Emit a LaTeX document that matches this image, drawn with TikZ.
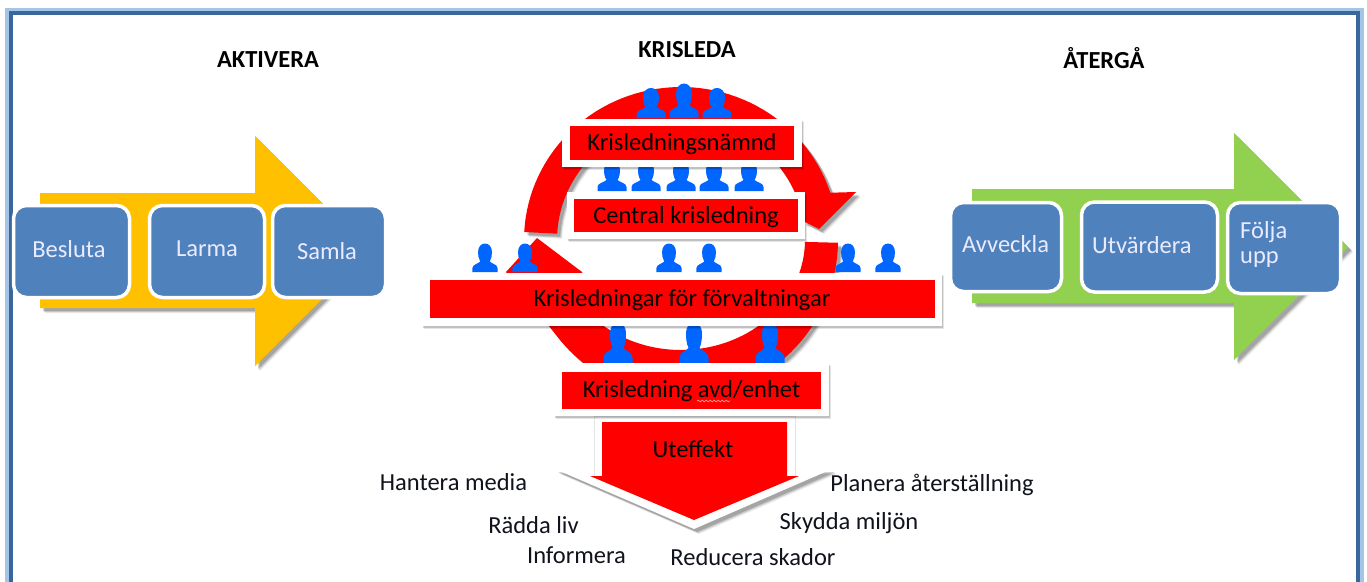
\documentclass[tikz,border=0pt]{standalone}
\usepackage{fontspec}
\setmainfont{Carlito}
\usetikzlibrary{shadows,decorations.pathmorphing}
\definecolor{boxblue}{HTML}{4F81BD}
\definecolor{framedark}{HTML}{3A679B}
\definecolor{framelight}{HTML}{A5C5E8}
\definecolor{amber}{HTML}{FFC000}
\definecolor{leaf}{HTML}{92D050}
\definecolor{ppl}{HTML}{0066FF}
\definecolor{ink}{HTML}{10131C}
\tikzset{
  softsh/.style={
    copy shadow={shadow xshift=5pt,shadow yshift=-5pt,opacity=.08,fill=black,draw=none},
    copy shadow={shadow xshift=4pt,shadow yshift=-4pt,opacity=.14,fill=black,draw=none},
    copy shadow={shadow xshift=3pt,shadow yshift=-3pt,opacity=.18,fill=black,draw=none}},
  softbox/.style={
    copy shadow={shadow xshift=2pt,shadow yshift=-2.5pt,opacity=.10,fill=black,draw=none},
    copy shadow={shadow xshift=1pt,shadow yshift=-1.5pt,opacity=.16,fill=black,draw=none}},
  title/.style={font=\bfseries\fontsize{24.5}{28}\selectfont,text=black,inner sep=0pt},
  label/.style={font=\fontsize{24.5}{28}\selectfont,text=ink,inner sep=0pt},
  boxlabel/.style={font=\fontsize{24.5}{28}\selectfont,text=white!92!blue,inner sep=0pt},
  whitebox/.style={fill=white,draw=none,inner sep=0pt,softbox},
  redbox/.style={fill=red,draw=none,inner sep=0pt,font=\fontsize{24.5}{28}\selectfont,text=black,text height=20pt,text depth=5pt},
  bluebox/.style={fill=boxblue,draw=white,line width=3.5pt,rounded corners=13pt,inner sep=0pt},
  person/.pic={\fill[ppl] (-14.5,0) -- (-14.5,-4) .. controls (-14.5,-8) and (-8,-8.5) .. (-5.5,-11)
     .. controls (-7.5,-14) and (-8,-18) .. (-8,-21) .. controls (-8,-27) and (-4,-30) .. (0,-30)
     .. controls (4,-30) and (8,-27) .. (8,-21) .. controls (8,-18) and (7.5,-14) .. (5.5,-11)
     .. controls (8,-8.5) and (14.5,-8) .. (14.5,-4) -- (14.5,0) -- cycle;}
}
\begin{document}
\begin{tikzpicture}[x=1pt,y=-1pt]
\useasboundingbox (0,0) rectangle (1367,581);
\fill[white] (0,0) rectangle (1367,581);
% frame
\draw[framelight,line width=7pt] (8,610) -- (8,11.5) -- (1360.5,11.5) -- (1360.5,610);
\draw[framedark,line width=4.5pt] (11,610) -- (11,13) -- (1358,13) -- (1358,610);
% titles
\node[title] (tA) at (268,60) {AKTIVERA};
\node[title] (tK) at (687,50) {KRISLEDA};
\node[title] (tR) at (1104,58) {ÅTERGÅ};
% left arrow
\path[fill=amber,softsh] (40,193) -- (255,193) -- (255,136) -- (370,251) -- (255,366) -- (255,308) -- (40,308) -- cycle;
\node[bluebox,minimum width=116pt,minimum height=92pt] (besluta) at (71.5,251.5) {};
\node[boxlabel] (besluta-t) at (69,249) {Besluta};
\node[bluebox,minimum width=115pt,minimum height=92pt] (larma) at (207,251.5) {};
\node[boxlabel] (larma-t) at (207,249) {Larma};
\node[bluebox,minimum width=113pt,minimum height=92pt] (samla) at (329,251.5) {};
\node[boxlabel] (samla-t) at (327,251) {Samla};
% right arrow
\path[fill=leaf,softsh] (972,189) -- (1234,189) -- (1234,133) -- (1348,247) -- (1234,360) -- (1234,303) -- (972,303) -- cycle;
\node[bluebox,minimum width=111pt,minimum height=89pt] (avv) at (1006,247) {};
\node[boxlabel,anchor=west] (avv-t) at (962,244) {Avveckla};
\node[bluebox,minimum width=136pt,minimum height=90pt] (utv) at (1149.5,247) {};
\node[boxlabel,anchor=west] (utv-t) at (1092,245) {Utvärdera};
\node[bluebox,minimum width=113pt,minimum height=91pt] (folj) at (1284,248) {};
\node[boxlabel,anchor=west] (folj-t) at (1240,232) {Följa};
\node[boxlabel,anchor=west] (upp-t) at (1240,260) {upp};
% ring, top arc with head
\path[fill=red,softsh]
  plot[domain=177:18,samples=60] ({681+157*cos(\x)},{240-153*sin(\x)})
  -- (856,192) -- (819,229) -- (805,222)
  -- plot[domain=8:177,samples=60] ({681+124*cos(\x)},{240-120*sin(\x)}) -- cycle;
% ring, bottom arc with head
\path[fill=red,softsh]
  plot[domain=-1:-140,samples=60] ({681+157*cos(\x)},{240-157*sin(\x)})
  -- (506,272) -- (537,238) -- (582,272) -- (592,300)
  -- plot[domain=-140:-1,samples=60] ({681+124*cos(\x)},{240-110*sin(\x)}) -- cycle;
% people
\foreach \x/\y/\s in {651/118/1,717/118/1,684/118/1.15}
  \pic[yscale=\s] at (\x,\y) {person};
\foreach \x in {612,646,681,714,749}
  \pic at (\x,191) {person};
\foreach \x in {485,525,669,709,848,888}
  \pic[xscale=.87,yscale=.95] at (\x,272) {person};
\foreach \x in {618,694,770}
  \pic[yscale=1.37] at (\x,363) {person};
% red boxes
\node[whitebox,minimum width=240pt,minimum height=48pt] (wn) at (682,143) {};
\node[redbox,minimum width=224pt,minimum height=34pt] (nn) at (682,143) {Krisledningsnämnd};
\node[whitebox,minimum width=238pt,minimum height=47pt] (wc) at (686,215.5) {};
\node[redbox,minimum width=224pt,minimum height=33pt] (cc) at (686,215.5) {Central krisledning};
\node[whitebox,minimum width=520pt,minimum height=53pt] (wf) at (682,299.5) {};
\node[redbox,minimum width=505pt,minimum height=38pt] (ff) at (682,299) {Krisledningar för förvaltningar};
% output arrow
\path[fill=white,softsh] (555,469) -- (832,469) -- (694,529) -- cycle;
\path[fill=white,draw=black!10] (594,416) rectangle (795,476);
\fill[white] (595,470) rectangle (794,480);
\path[fill=red] (602,422) -- (787,422) -- (787,476) -- (799,476) -- (694,520) -- (590,476) -- (602,476) -- cycle;
\node[redbox,fill=none] (ut) at (693,450) {Uteffekt};
\node[whitebox,minimum width=275pt,minimum height=53pt] (wa) at (691.5,389.5) {};
\node[redbox,minimum width=259pt,minimum height=37pt] (aa) at (691.5,390) {Krisledning avd/enhet};
\draw[red!40!white,line width=.7pt,decorate,decoration={snake,amplitude=.8pt,segment length=4pt}] (697,401) -- (730,401);
% outcome labels
\node[label] (l1) at (453.5,482) {Hantera media};
\node[label] (l2) at (932,485) {Planera återställning};
\node[label] (l3) at (533.5,525) {Rädda liv};
\node[label] (l4) at (849,523) {Skydda miljön};
\node[label] (l5) at (576.5,555) {Informera};
\node[label] (l6) at (753,557) {Reducera skador};
\end{tikzpicture}
\end{document}
